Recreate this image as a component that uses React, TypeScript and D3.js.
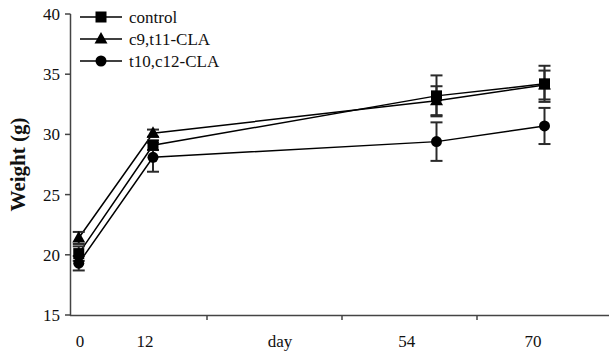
import React from "react";
import * as d3 from "d3";

// days of measurement
const days = [1, 12, 54, 70];

const seriesNames = ["control", "c9,t11-CLA", "t10,c12-CLA"];
const controlMean = [20.1, 29.1, 33.2, 34.2];
const controlErr = [0.6, 0.4, 1.7, 1.5];
const c9t11Mean = [21.4, 30.1, 32.8, 34.1];
const c9t11Err = [0.5, 0.3, 1.2, 1.2];
const t10c12Mean = [19.3, 28.1, 29.4, 30.7];
const t10c12Err = [0.6, 1.2, 1.6, 1.5];

const yTicks = [15, 20, 25, 30, 35, 40];
const xTickLabels = ["0", "12", "day", "54", "70"];
// where the excel text labels sit along the day axis
const xLabelAt = [1.2, 10.8, 30.8, 49.6, 68.3];
const xTickMarks = [20, 40, 60];

const W = 609, H = 356;
const serif = "'Liberation Serif', 'DejaVu Serif', serif";

const Marker = ({ kind, x, y }: { kind: string; x: number; y: number }) => {
  if (kind === "square") return <rect x={x - 5.5} y={y - 5.5} width={11} height={11} fill="#000" />;
  if (kind === "triangle")
    return <path d={`M${x},${y - 7} L${x + 6.5},${y + 4.5} L${x - 6.5},${y + 4.5} Z`} fill="#000" />;
  return <circle cx={x} cy={y} r={5.5} fill="#000" />;
};

export default function App() {
  const x = d3.scaleLinear().domain([0, 80]).range([72, 612]);
  const y = d3.scaleLinear().domain([15, 40]).range([315, 14]);

  const series = [
    { name: seriesNames[0], mean: controlMean, err: controlErr, kind: "square" },
    { name: seriesNames[1], mean: c9t11Mean, err: c9t11Err, kind: "triangle" },
    { name: seriesNames[2], mean: t10c12Mean, err: t10c12Err, kind: "circle" },
  ];

  const line = d3
    .line<number>()
    .x((_, i) => x(days[i]))
    .y((d) => y(d));

  return (
    <svg
      width={W}
      height={H}
      style={{ position: "absolute", left: 0, top: 0, background: "#fff" }}
      fontFamily={serif}
    >
      {/* y axis */}
      <line x1={70.5} x2={70.5} y1={y(40)} y2={y(15) + 1} stroke="#444" strokeWidth={1.5} />
      {yTicks.map((t) => (
        <g key={t}>
          <line x1={65} x2={70.5} y1={y(t)} y2={y(t)} stroke="#444" strokeWidth={1.5} />
          <text x={60} y={y(t)} dy="0.35em" textAnchor="end" fontSize={17} fill="#111">
            {t}
          </text>
        </g>
      ))}
      <text
        transform={`translate(25,${(y(40) + y(15)) / 2}) rotate(-90)`}
        textAnchor="middle"
        fontSize={21}
        fontWeight="bold"
        fill="#111"
      >
        Weight (g)
      </text>

      {/* x axis */}
      <line x1={70} x2={W} y1={315.5} y2={315.5} stroke="#444" strokeWidth={1.5} />
      {xTickMarks.map((t) => (
        <line key={t} x1={x(t)} x2={x(t)} y1={315.5} y2={320} stroke="#444" strokeWidth={1.5} />
      ))}
      {xTickLabels.map((lab, i) => (
        <text key={lab} x={x(xLabelAt[i])} y={347} textAnchor="middle" fontSize={17} fill="#111">
          {lab}
        </text>
      ))}

      {/* lines */}
      {series.map((s) => (
        <path key={s.name} d={line(s.mean) || ""} fill="none" stroke="#000" strokeWidth={1.5} />
      ))}

      {/* error bars */}
      {series.map((s) =>
        s.mean.map((m, i) => {
          const cx = x(days[i]);
          return (
            <g key={s.name + i} stroke="#2a2a2a" strokeWidth={2}>
              <line x1={cx} x2={cx} y1={y(m - s.err[i])} y2={y(m + s.err[i])} />
              <line x1={cx - 6} x2={cx + 6} y1={y(m - s.err[i])} y2={y(m - s.err[i])} />
              <line x1={cx - 6} x2={cx + 6} y1={y(m + s.err[i])} y2={y(m + s.err[i])} />
            </g>
          );
        })
      )}

      {/* markers */}
      {series.map((s) =>
        s.mean.map((m, i) => <Marker key={s.name + "m" + i} kind={s.kind} x={x(days[i])} y={y(m)} />)
      )}

      {/* legend */}
      {series.map((s, i) => {
        const ly = 17 + i * 22;
        return (
          <g key={"lg" + s.name}>
            <line x1={80} x2={122} y1={ly} y2={ly} stroke="#000" strokeWidth={1.5} />
            <Marker kind={s.kind} x={101} y={ly} />
            <text x={129} y={ly} dy="0.35em" fontSize={17} fill="#111">
              {s.name}
            </text>
          </g>
        );
      })}
    </svg>
  );
}
